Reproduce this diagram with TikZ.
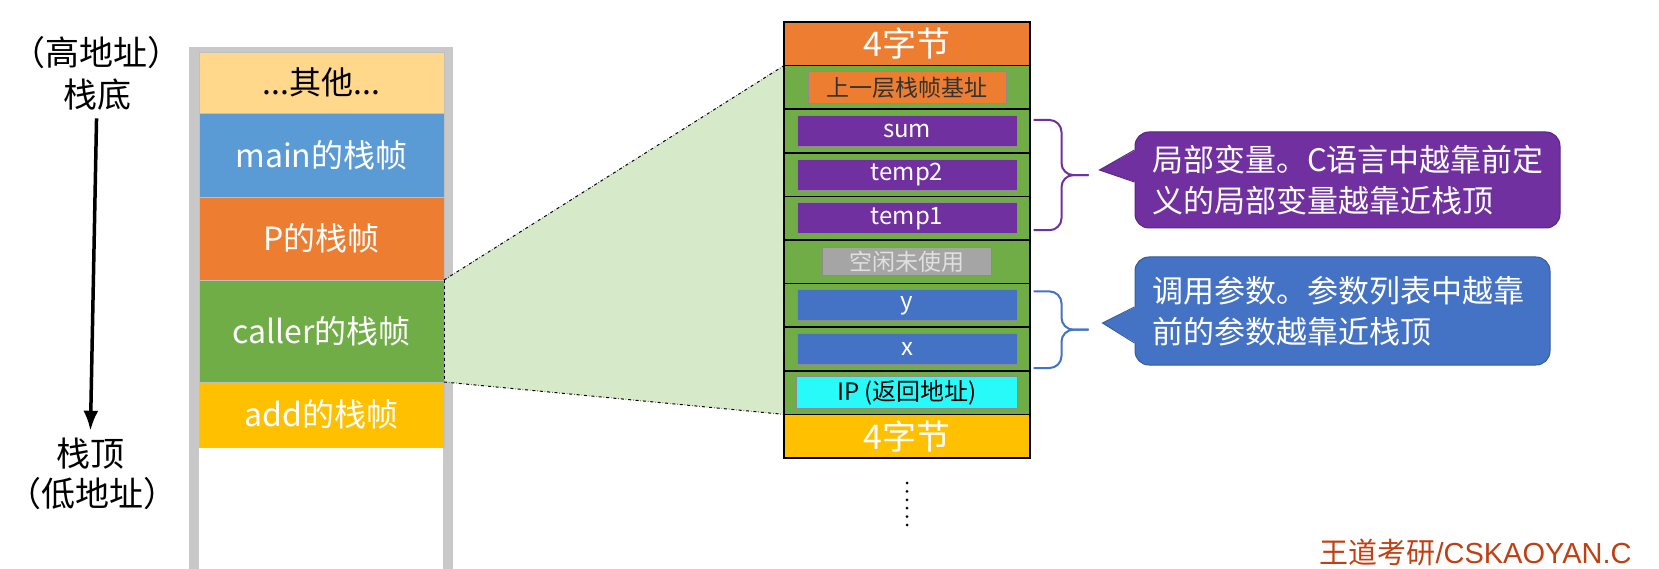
\documentclass[tikz,border=0pt]{standalone}
\usepackage{fontspec}
\setmainfont{Noto Sans CJK SC}
\newfontfamily\markfont{Liberation Sans}
\usepackage{xcolor}
\usepackage{tikz}
\usetikzlibrary{shapes,arrows,arrows.meta,positioning,calc,backgrounds}
\definecolor{othersyellow}{RGB}{255,216,140}
\definecolor{mainblue}{RGB}{91,155,213}
\definecolor{porange}{RGB}{237,125,49}
\definecolor{callergreen}{RGB}{112,173,71}
\definecolor{addyellow}{RGB}{255,192,0}
\definecolor{varpurple}{RGB}{112,48,160}
\definecolor{argblue}{RGB}{68,114,196}
\definecolor{idlegray}{RGB}{165,165,165}
\definecolor{ipcyan}{RGB}{40,250,250}
\definecolor{zoomgreen}{RGB}{214,233,200}
\definecolor{framegray}{RGB}{200,200,200}
\definecolor{markred}{RGB}{192,64,20}
\tikzstyle{stackblock} = [rectangle, draw=black!25, line width=0.8pt, outer sep=0pt, inner sep=0pt, minimum width=245pt, text=white, font=\fontsize{32}{38}\selectfont]
\tikzstyle{stackcell} = [rectangle, draw=black, line width=1.5pt, outer sep=0pt, inner sep=0pt, minimum width=246pt, minimum height=43.6pt, fill=callergreen]
\tikzstyle{wordcell} = [stackcell, text=white, font=\fontsize{34}{38}\selectfont]
\tikzstyle{slotbox} = [rectangle, draw=black!45, line width=1pt, inner sep=0pt, minimum width=220pt, minimum height=31pt, text=white, font=\fontsize{24}{28}\selectfont]
\tikzstyle{notebox} = [rectangle, rounded corners=14pt, line width=1pt, text=white, align=left, inner xsep=17pt, font=\fontsize{31}{41}\selectfont]
\tikzstyle{addrtext} = [font=\fontsize{34}{38}\selectfont]
\tikzstyle{arrowline} = [draw, line width=3.5pt, -{Latex[length=20pt,width=15pt]}]
\tikzstyle{bracket} = [draw, line width=2pt, rounded corners=12pt]

\begin{document}
\begin{tikzpicture}[x=1pt, y=-1pt]
\useasboundingbox (0,0) rectangle (1659,569);
% left stack
\node [stackblock, fill=othersyellow, text=black, minimum height=61pt] (others) at (321.5,82.5) {...其他...};
\node [stackblock, fill=mainblue, minimum height=84pt, below=0pt of others] (mainframe) {main的栈帧};
\node [stackblock, fill=porange, minimum height=83pt, below=0pt of mainframe] (pframe) {P的栈帧};
\node [stackblock, fill=callergreen, minimum height=102pt, below=0pt of pframe] (callerframe) {caller的栈帧};
\node [stackblock, fill=addyellow, minimum height=65pt, below=0pt of callerframe] (addframe) {add的栈帧};

\node [addrtext] (hiaddr) at (96,53) {（高地址）};
\node [addrtext] (stackbase) at (97,95) {栈底};
\node [addrtext] (stacktop) at (90,454) {栈顶};
\node [addrtext] (loaddr) at (92,494) {（低地址）};
\path [arrowline, shorten <=4pt, shorten >=4pt] (stackbase) -- (stacktop);

% caller frame in detail
\node [wordcell, fill=porange] (topword) at (907,43.8) {4字节};
\node [stackcell, below=0pt of topword] (ebpcell) {};
\node [slotbox, fill=porange, text=black!80, minimum width=198pt, minimum height=32pt, font=\fontsize{23}{28}\selectfont] (ebpbox) at (ebpcell) {上一层栈帧基址};
\node [stackcell, below=0pt of ebpcell] (sumcell) {};
\node [slotbox, fill=varpurple] (sumbox) at (sumcell) {sum};
\node [stackcell, below=0pt of sumcell] (temptwocell) {};
\node [slotbox, fill=varpurple] (temptwobox) at (temptwocell) {temp2};
\node [stackcell, below=0pt of temptwocell] (temponecell) {};
\node [slotbox, fill=varpurple] (temponebox) at (temponecell) {temp1};
\node [stackcell, below=0pt of temponecell] (idlecell) {};
\node [slotbox, fill=idlegray, text=black!12, minimum width=169pt, minimum height=28pt, font=\fontsize{23}{28}\selectfont] (idlebox) at (idlecell) {空闲未使用};
\node [stackcell, below=0pt of idlecell] (ycell) {};
\node [slotbox, fill=argblue] (ybox) at (ycell) {y};
\node [stackcell, below=0pt of ycell] (xcell) {};
\node [slotbox, fill=argblue] (xbox) at (xcell) {x};
\node [stackcell, below=0pt of xcell] (ipcell) {};
\node [slotbox, fill=ipcyan, text=black, minimum width=221pt, minimum height=32pt] (ipbox) at (ipcell) {IP (返回地址)};
\node [wordcell, fill=addyellow, below=0pt of ipcell] (botword) {4字节};
\draw [line width=3pt, line cap=round, dash pattern=on 0pt off 8.4pt] ([yshift=-25pt]botword.south) -- ([yshift=-67pt]botword.south);

% zoom lines
\begin{scope}[on background layer]
\fill [framegray] (189,47) rectangle (199,569);
\fill [framegray] (443,47) rectangle (453,569);
\fill [framegray] (189,47) rectangle (453,52);
\fill [zoomgreen] (callerframe.north east) -- (ebpcell.north west) -- (ipcell.south west) -- (callerframe.south east) -- cycle;
\end{scope}
\draw [dashed, line width=1pt] (callerframe.north east) -- (callerframe.south east);
\draw [dash dot, line width=1pt] (callerframe.north east) -- (ebpcell.north west);
\draw [dash dot, line width=1pt] (callerframe.south east) -- (ipcell.south west);

% braces
\coordinate (vartop) at ([xshift=16pt,yshift=-5pt]sumbox.north east);
\coordinate (varbot) at ([xshift=16pt,yshift=4pt]temponebox.south east);
\coordinate (vartip) at ($(vartop)!0.5!(varbot)+(55,0)$);
\path [bracket, draw=varpurple] (vartop) -- ++(28,0) |- (vartip);
\path [bracket, draw=varpurple] (varbot) -- ++(28,0) |- (vartip);
\coordinate (argtop) at ([xshift=16pt,yshift=-2pt]ybox.north east);
\coordinate (argbot) at ([xshift=16pt,yshift=-3pt]xbox.south east);
\coordinate (argtip) at ($(argtop)!0.5!(argbot)+(55,0)$);
\path [bracket, draw=argblue] (argtop) -- ++(28,0) |- (argtip);
\path [bracket, draw=argblue] (argbot) -- ++(28,0) |- (argtip);

% notes
\node [notebox, fill=varpurple, draw=varpurple!80!black, text width=391pt, minimum height=96pt] (varnote) at (1347.5,180) {局部变量。C语言中越靠前定\\义的局部变量越靠近栈顶};
\coordinate (varpoint) at ([xshift=-35pt,yshift=10pt]varnote.west);
\fill [varpurple] ([xshift=1.5pt,yshift=30pt]varnote.west) -- (varpoint) -- ([xshift=1.5pt,yshift=-2pt]varnote.west) -- cycle;
\draw [varpurple!80!black, line width=1pt] ([yshift=30pt]varnote.west) -- (varpoint) -- ([yshift=-2pt]varnote.west);
\node [notebox, fill=argblue, draw=argblue!80!black, text width=381pt, minimum height=108pt] (argnote) at (1342.5,311) {调用参数。参数列表中越靠\\前的参数越靠近栈顶};
\coordinate (argpoint) at ([xshift=-32pt,yshift=-12pt]argnote.west);
\fill [argblue] ([xshift=1.5pt,yshift=4pt]argnote.west) -- (argpoint) -- ([xshift=1.5pt,yshift=-32pt]argnote.west) -- cycle;
\draw [argblue!80!black, line width=1pt] ([yshift=4pt]argnote.west) -- (argpoint) -- ([yshift=-32pt]argnote.west);

\node [anchor=west, text=markred, font=\fontsize{29}{32}\selectfont] (watermark) at (1316,552) {王道考研{\markfont /CSKAOYAN.C}};
\end{tikzpicture}
\end{document}
